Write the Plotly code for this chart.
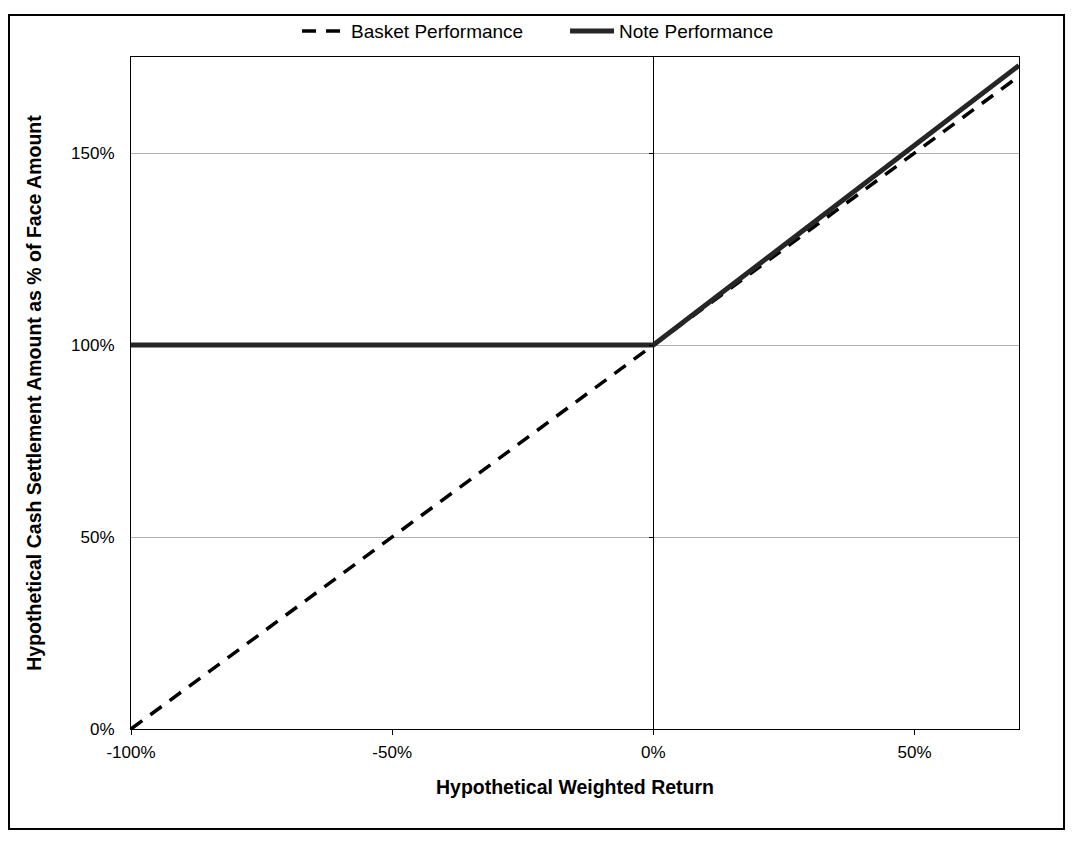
import plotly.graph_objects as go

# Data
returns = [-1.0, 0.0, 0.7]
basket_values = [0.0, 1.0, 1.7]
note_values = [1.0, 1.0, 1.728]
series_names = ["Basket Performance", "Note Performance"]
x_tickvals = [-1.0, -0.5, 0.0, 0.5]
x_ticktext = ["-100%", "-50%", "0%", "50%"]
y_tickvals = [0.0, 0.5, 1.0, 1.5]
y_ticktext = ["0%", "50%", "100%", "150%"]
x_range = [-1.0, 0.7]
y_range = [0.0, 1.75]

FONT = "Liberation Sans, Arial, sans-serif"

fig = go.Figure()
fig.add_trace(go.Scatter(
    x=returns, y=basket_values, mode="lines", name=series_names[0],
    line=dict(color="#000000", width=3.5, dash="14px,10px"),
))
fig.add_trace(go.Scatter(
    x=returns, y=note_values, mode="lines", name=series_names[1],
    line=dict(color="#262626", width=5),
))
# invisible helper trace to show the crossing axis ticks at x = 0
fig.add_trace(go.Scatter(
    x=returns, y=basket_values, mode="lines", yaxis="y2", showlegend=False,
    hoverinfo="skip", line=dict(width=0, color="rgba(0,0,0,0)"),
))

zero_pos = (0 - x_range[0]) / (x_range[1] - x_range[0])

fig.update_layout(
    width=1084, height=849,
    paper_bgcolor="white", plot_bgcolor="white",
    margin=dict(l=123, r=73, t=49, b=128, autoexpand=False),
    font=dict(family=FONT, size=17, color="#000000"),
    showlegend=True,
    legend=dict(orientation="h", x=0.187, xanchor="left", y=1.0384, yanchor="middle",
                font=dict(size=19), bgcolor="rgba(0,0,0,0)", traceorder="normal",
                itemwidth=44, entrywidth=209, entrywidthmode="pixels"),
    xaxis=dict(
        range=x_range, tickvals=x_tickvals, ticktext=x_ticktext,
        showgrid=False, zeroline=True, zerolinecolor="#000000", zerolinewidth=1,
        showline=True, linecolor="#000000", linewidth=1, mirror=True,
        ticks="outside", ticklen=5, tickcolor="#000000", ticklabelstandoff=3,
        tickfont=dict(size=17), automargin=False,
        title=dict(text="<b>Hypothetical Weighted Return</b>", font=dict(size=19.5), standoff=18),
    ),
    yaxis=dict(
        range=y_range, tickvals=y_tickvals, ticktext=y_ticktext,
        showgrid=True, gridcolor="#b0b0b0", gridwidth=1,
        zeroline=False,
        showline=True, linecolor="#000000", linewidth=1, mirror=True,
        ticks="", ticklabelstandoff=12,
        tickfont=dict(size=17), automargin=False,
        title=dict(text="<b>Hypothetical Cash Settlement Amount as % of Face Amount</b>",
                   font=dict(size=19.5), standoff=24),
    ),
    yaxis2=dict(
        range=y_range, tickvals=y_tickvals, overlaying="y", anchor="free",
        position=zero_pos, side="left", showgrid=False, zeroline=False,
        showline=False, showticklabels=False, automargin=False,
        ticks="outside", ticklen=4, tickcolor="#000000",
    ),
)

# Outer chart border
fig.add_shape(type="rect", xref="paper", yref="paper",
              x0=-0.1374, x1=1.0507, y0=-0.1488, y1=1.0625,
              line=dict(color="#000000", width=2), fillcolor="rgba(0,0,0,0)", layer="above")

fig.write_html("out.html")
